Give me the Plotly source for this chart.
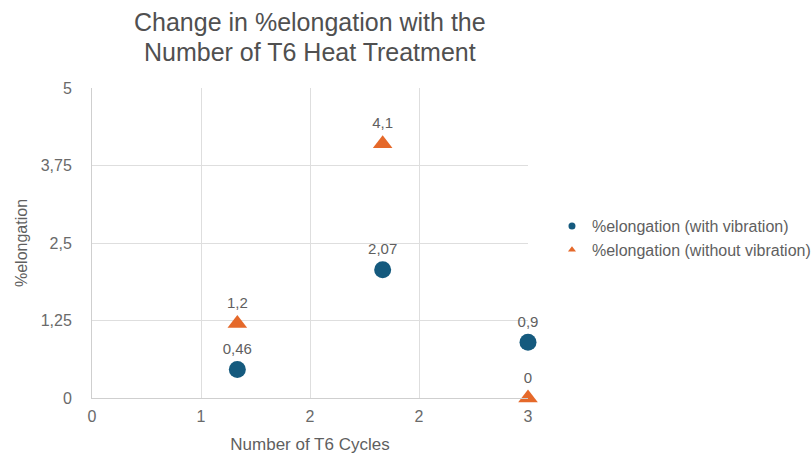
import plotly.graph_objects as go

# T6 heat-treatment cycles and measured elongation
cycles = [1, 2, 3]
elong_with_vibration = [0.46, 2.07, 0.9]
elong_without_vibration = [1.2, 4.1, 0]

x_tick_vals = [0, 0.75, 1.5, 2.25, 3]
x_tick_text = ["0", "1", "2", "2", "3"]
y_tick_vals = [0, 1.25, 2.5, 3.75, 5]
y_tick_text = ["0", "1,25", "2,5", "3,75", "5"]

series_names = ["%elongation (with vibration)", "%elongation (without vibration)"]
series_symbols = ["circle", "triangle-up"]
series_colors = ["#155a7e", "#e5692a"]


def comma(v):
    return f"{v:g}".replace(".", ",")


FONT = "Liberation Sans, Arial, sans-serif"
GREY = "#5f5f5f"

fig = go.Figure()
for name, values, symbol, color, size in zip(
        series_names, [elong_with_vibration, elong_without_vibration],
        series_symbols, series_colors, [17, 17]):
    fig.add_trace(go.Scatter(
        x=cycles, y=values, mode="markers+text", name=name,
        legendgroup=name, showlegend=False, cliponaxis=False,
        marker=dict(symbol=symbol, size=size, color=color),
        text=[comma(v) for v in values], textposition="top center",
        textfont=dict(size=15, color=GREY, family=FONT),
    ))
    # small-symbol legend entry for the series
    fig.add_trace(go.Scatter(
        x=[None], y=[None], mode="markers", name=name, legendgroup=name,
        marker=dict(symbol=symbol, size=7, color=color),
    ))

title_lines = ["Change in %elongation with the", "Number of T6 Heat Treatment"]
for i, line in enumerate(title_lines):
    fig.add_annotation(
        text=line, xref="paper", yref="paper", x=0.5, y=1.213 - 0.097 * i,
        xanchor="center", yanchor="middle", showarrow=False,
        font=dict(size=25, color="#505050", family=FONT),
    )

fig.update_layout(
    width=812, height=456,
    margin=dict(l=92, r=284, t=88, b=58, autoexpand=False),
    paper_bgcolor="white", plot_bgcolor="white",
    font=dict(family=FONT, color=GREY),
    showlegend=True,
    legend=dict(x=1.055, y=0.516, xanchor="left", yanchor="middle",
                font=dict(size=16, color=GREY), tracegroupgap=0,
                itemsizing="trace"),
    xaxis=dict(range=[0, 3], tickvals=x_tick_vals, ticktext=x_tick_text,
               showgrid=True, gridcolor="#dedede", gridwidth=1,
               zeroline=False, showline=True, linecolor="#cfcfcf",
               tickfont=dict(size=16, color="#6a6a6a"), ticklabelstandoff=4,
               title=dict(text="Number of T6 Cycles", font=dict(size=17, color=GREY),
                          standoff=13)),
    yaxis=dict(range=[0, 5], tickvals=y_tick_vals, ticktext=y_tick_text,
               showgrid=True, gridcolor="#dedede", gridwidth=1,
               zeroline=False, showline=True, linecolor="#cfcfcf",
               tickfont=dict(size=16, color="#6a6a6a"), ticklabelstandoff=16,
               title=dict(text="%elongation", font=dict(size=16, color=GREY),
                          standoff=9)),
)

fig.write_html("out.html")
